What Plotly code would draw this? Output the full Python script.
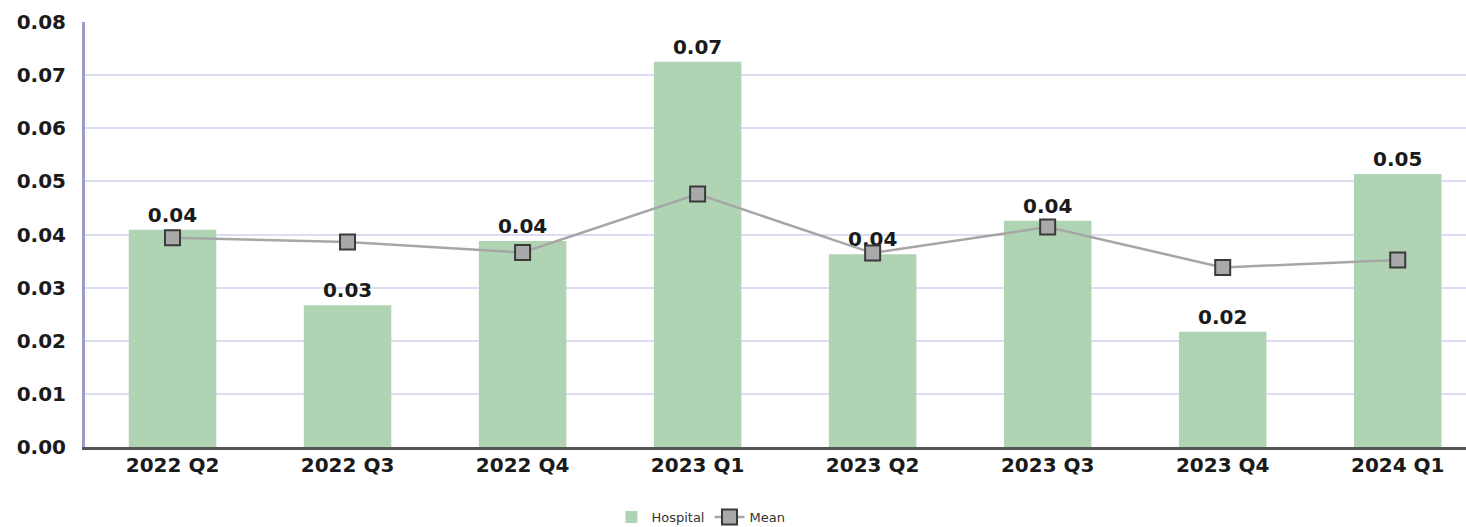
import plotly.graph_objects as go

quarters = ["2022 Q2", "2022 Q3", "2022 Q4", "2023 Q1", "2023 Q2", "2023 Q3", "2023 Q4", "2024 Q1"]
hospital = [0.0409, 0.0267, 0.0388, 0.0725, 0.0363, 0.0426, 0.0217, 0.0514]
mean = [0.0394, 0.0386, 0.0366, 0.0476, 0.0365, 0.0414, 0.0338, 0.0352]
y_ticks = [0.00, 0.01, 0.02, 0.03, 0.04, 0.05, 0.06, 0.07, 0.08]

label_font = "DejaVu Sans, Liberation Sans, sans-serif"

fig = go.Figure()
fig.add_trace(go.Bar(
    x=list(range(len(quarters))), y=hospital, name="Hospital",
    marker=dict(color="#b0d3b3", line=dict(width=0)),
    width=0.5,
    texttemplate="%{y:.2f}", textposition="outside",
    textfont=dict(family=label_font, size=20, color="#1a1a1a", weight="bold"),
    cliponaxis=False,
))
fig.add_trace(go.Scatter(
    x=list(range(len(quarters))), y=mean, name="Mean", mode="lines+markers",
    line=dict(color="#a6a6a6", width=2.5),
    marker=dict(symbol="square", size=15, color="#a9a9a9",
                line=dict(color="#3a3a3a", width=2)),
    cliponaxis=False,
))

fig.update_layout(
    width=1466, height=527,
    margin=dict(l=85, r=0, t=22, b=80, autoexpand=False),
    paper_bgcolor="white", plot_bgcolor="white",
    bargap=0.5,
    showlegend=True,
    legend=dict(orientation="h", x=0.446, xanchor="center",
                y=-0.165, yanchor="middle",
                font=dict(family=label_font, size=13, color="#333"),
                itemwidth=30),
    xaxis=dict(
        tickmode="array", tickvals=list(range(len(quarters))), ticktext=quarters,
        range=[-0.5, 7.39],
        tickfont=dict(family=label_font, size=20, color="#1a1a1a", weight="bold"),
        showgrid=False, ticks="", showline=True, linecolor="#555555", linewidth=3,
        zeroline=False, ticklabelstandoff=-2,
    ),
    yaxis=dict(
        range=[0, 0.08], tickvals=y_ticks, tickformat=".2f",
        tickfont=dict(family=label_font, size=20, color="#1a1a1a", weight="bold"),
        showgrid=True, gridcolor="#dcdcf2", gridwidth=2,
        showline=True, linecolor="#9c9cc8", linewidth=3,
        zeroline=False, ticks="", ticklabelstandoff=12,
    ),
)

fig.write_html("out.html")
